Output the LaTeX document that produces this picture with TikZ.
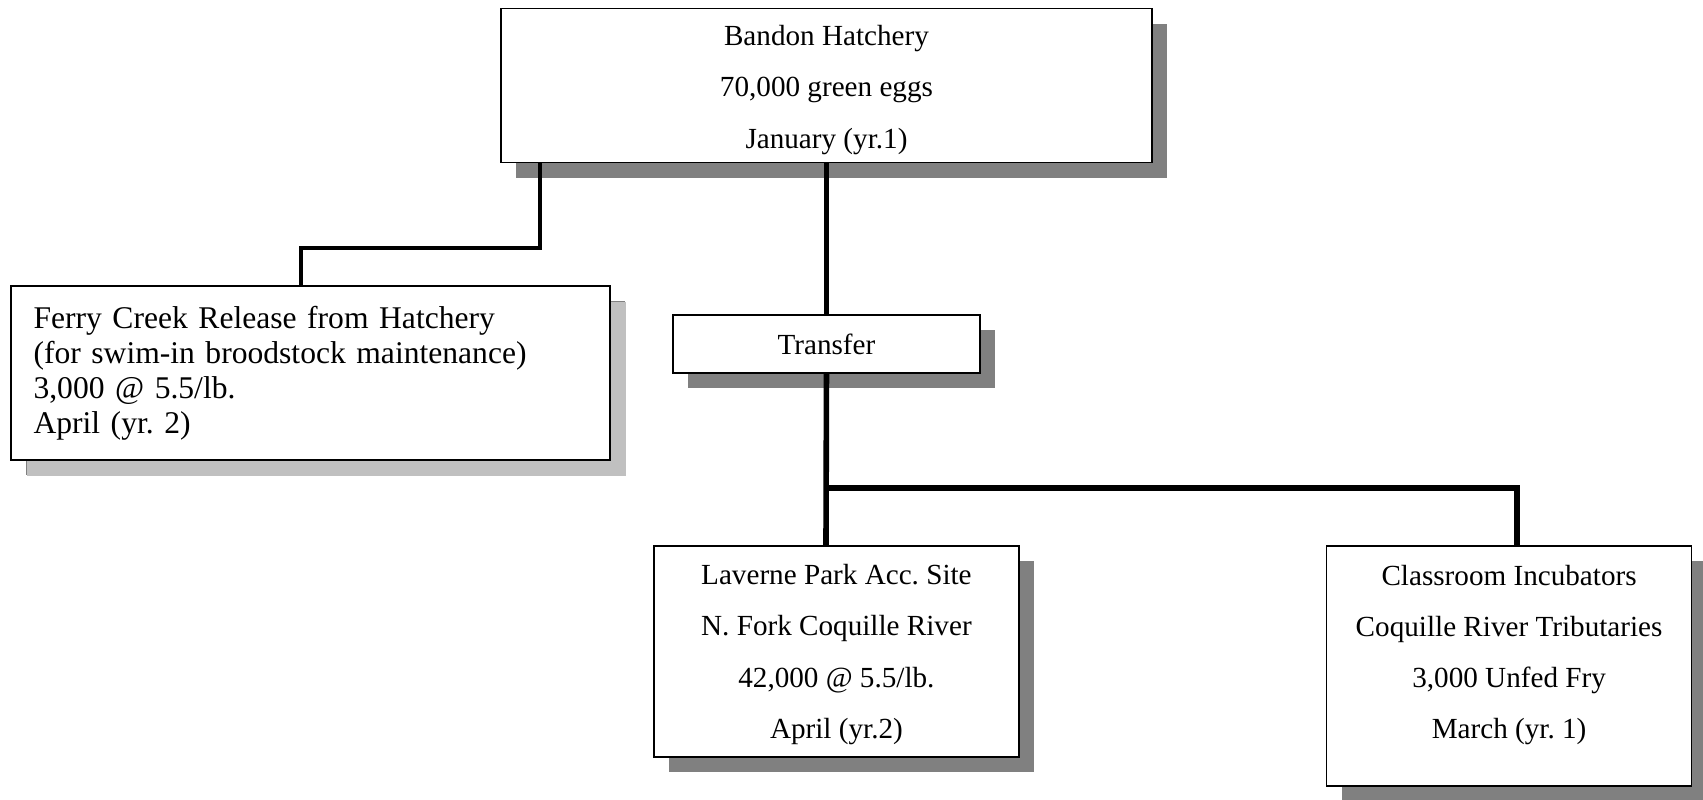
\documentclass[tikz,border=0pt]{standalone}
\usepackage{fontspec}
\setmainfont{Liberation Serif}
\frenchspacing
\usetikzlibrary{shadows}
\definecolor{shadowdark}{HTML}{808080}
\definecolor{shadowlight}{HTML}{C0C0C0}
\begin{document}
\begin{tikzpicture}[
    stage/.style={draw,fill=white,line width=0.7pt,align=center,inner sep=0pt,
      font=\fontsize{12}{21}\selectfont,
      drop shadow={shadow xshift=6.2pt,shadow yshift=-6.2pt,fill=shadowdark,opacity=1}},
    trunk/.style={line width=2.3pt,color=black},
    branch/.style={line width=1.6pt,color=black}
  ]
  \useasboundingbox (0,0) rectangle (700.8pt,-328.8pt);
  \begin{scope}[x=1pt,y=1pt]
	  \node [stage,minimum width=267.9pt,minimum height=63.4pt] at (340.1,-35.2) (hatchery) {\mbox{}\\[-9pt]Bandon Hatchery\\70,000 green eggs\\January (yr.1)};
	  \node [stage,minimum width=126.4pt,minimum height=23.9pt] at (340.1,-141.6) (transfer) {Transfer};
	  \node [stage,minimum width=246.5pt,minimum height=71.6pt,align=left,text width=228pt,
	    font=\fontsize{13}{14.4}\selectfont,
	    drop shadow={shadow xshift=6.6pt,shadow yshift=-6.6pt,fill=shadowlight,opacity=1}] at (127.8,-153.5) (ferry)
	    {Ferry Creek Release from Hatchery\\(for swim-in broodstock maintenance)\\3,000 @ 5.5/lb.\\April (yr. 2)};
	  \node [stage,minimum width=150.2pt,minimum height=86.8pt] at (344.2,-268.1) (laverne) {\mbox{}\\[-10.2pt]Laverne Park Acc. Site\\N. Fork Coquille River\\42,000 @ 5.5/lb.\\April (yr.2)};
	  \node [stage,minimum width=150.2pt,minimum height=98.8pt] at (621.0,-274.1) (classroom) {Classroom Incubators\\Coquille River Tributaries\\3,000 Unfed Fry\\March (yr. 1)\\[-9pt]\mbox{}};
	  \coordinate (split) at (339.9,-200.8);
	  \coordinate (splitright) at (624.2,-200.8);
	  \coordinate (ferrytop) at (222.2,-102.1);
	  \coordinate (ferryend) at (123.9,-102.1);
	  \draw [trunk] (hatchery) -- (transfer);
	  \draw [trunk] (transfer.south) -- (split |- laverne.north);
	  \draw [trunk] (split) -- (splitright) -- (splitright |- classroom.north);
	  \draw [branch] (hatchery.south -| ferrytop) -- (ferrytop) -- (ferryend) -- (ferryend |- ferry.north);
  \end{scope}
\end{tikzpicture}
\end{document}
